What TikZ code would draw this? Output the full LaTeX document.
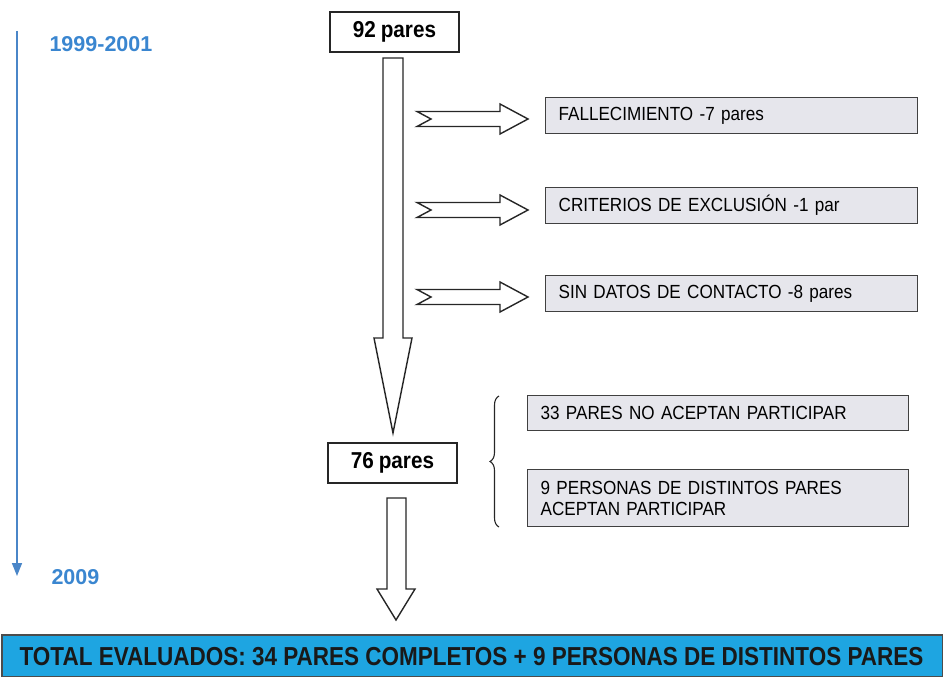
\documentclass[tikz,border=0pt]{standalone}
\usepackage{fontspec}
\setmainfont{Liberation Sans}
\newfontfamily\bannerfont[FakeStretch=0.865]{Liberation Sans}
\newfontfamily\narrowfont[FakeStretch=0.9,WordSpace=0.85]{Liberation Sans}
\usetikzlibrary{arrows.meta,decorations.pathreplacing,calc}
\definecolor{boxgray}{RGB}{230,230,236}
\definecolor{yearblue}{RGB}{58,134,208}
\definecolor{lineblue}{RGB}{74,134,200}
\definecolor{bannerblue}{RGB}{30,165,225}
\tikzset{
  graybox/.style={draw=black!75, line width=1.3pt, fill=boxgray, minimum height=36pt,
    inner xsep=13pt, inner ysep=2pt, align=left, anchor=north west,
    font=\narrowfont\fontsize{19}{21}\selectfont},
  countbox/.style={draw=black!85, line width=1.6pt, fill=white, minimum width=129pt,
    minimum height=40pt, font=\narrowfont\fontsize{23}{25}\selectfont\bfseries},
  yeartext/.style={text=yearblue, font=\fontsize{21.5}{24}\selectfont\bfseries},
  arrowline/.style={draw=black!85, line width=1.4pt, fill=white, line join=miter},
  smallarrow/.pic={\path[arrowline] (0,-7.5) -- (83,-7.5) -- (83,-15) -- (111,0)
      -- (83,15) -- (83,7.5) -- (0,7.5) -- (14,0) -- cycle;},
}
\begin{document}
\begin{tikzpicture}[x=1pt,y=-1pt]
\useasboundingbox (0,0) rectangle (943,677);

% timeline
\coordinate (tltop) at (17,31);
\coordinate (tlbot) at (17,576);
\draw[lineblue, line width=1.5pt, -{Triangle[length=13pt,width=10pt]}] (tltop) -- (tlbot);
\node[yeartext, anchor=west] (y1) at (46,44) {1999-2001};
\node[yeartext, anchor=west] (y2) at (48,577) {2009};

% count boxes
\node[countbox] (n92) at (394.5,32) {92 pares};
\node[countbox] (n76) at (392.5,463) {76 pares};

% big arrows
\path[arrowline] (383,58) -- (403,58) -- (403,338) -- (412,338) -- (393,433)
  -- (374,338) -- (383,338) -- cycle;
\path[arrowline] (387,498) -- (406,498) -- (406,589) -- (415,589) -- (396,620)
  -- (377,589) -- (387,589) -- cycle;

% small arrows
\pic at (417,119) {smallarrow};
\pic at (417,210) {smallarrow};
\pic at (417,297) {smallarrow};

% exclusion boxes
\node[graybox, text width=346pt] (b1) at (545,97) {FALLECIMIENTO -7 pares};
\node[graybox, text width=346pt] (b2) at (545,187) {CRITERIOS DE EXCLUSIÓN -1 par};
\node[graybox, text width=346pt] (b3) at (545,275) {SIN DATOS DE CONTACTO -8 pares};

% acceptance boxes
\node[graybox, text width=355pt, minimum height=35pt] (b4) at (527,395) {33 PARES NO ACEPTAN PARTICIPAR};
\node[graybox, text width=355pt, minimum height=57pt] (b5) at (527,469) {9 PERSONAS DE DISTINTOS PARES\\ACEPTAN PARTICIPAR};

% brace
\coordinate (brb) at (499,527);
\coordinate (brt) at (499,396);
\draw[black!85, line width=1.1pt, decorate, decoration={brace, amplitude=9pt}] (brb) -- (brt);

% banner
\node[draw=black!70, line width=2pt, fill=bannerblue, minimum width=941pt, minimum height=42pt,
  anchor=north west, inner sep=0pt] (banner) at (1,634) {};
\node[text=black!90, font=\bannerfont\fontsize{26}{28}\selectfont\bfseries] (bantext) at (471.5,657)
  {TOTAL EVALUADOS: 34 PARES COMPLETOS + 9 PERSONAS DE DISTINTOS PARES};
\end{tikzpicture}
\end{document}
